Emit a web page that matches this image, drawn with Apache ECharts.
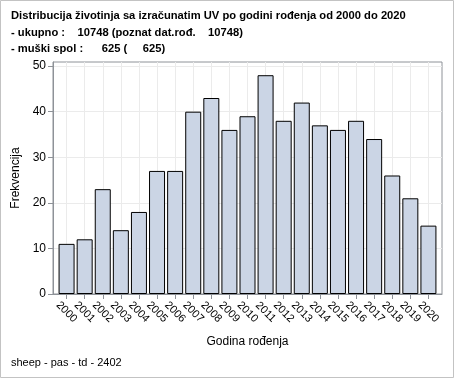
<!DOCTYPE html>
<html>
<head>
<meta charset="utf-8">
<script src="https://cdn.jsdelivr.net/npm/echarts@6/dist/echarts.min.js"></script>
<style>
  html, body { margin: 0; padding: 0; background: #fff; }
  #chart { width: 454px; height: 378px; }
</style>
</head>
<body>
<div id="chart"></div>
<script>
// birth years and counts
const years = [2000, 2001, 2002, 2003, 2004, 2005, 2006, 2007, 2008, 2009, 2010,
               2011, 2012, 2013, 2014, 2015, 2016, 2017, 2018, 2019, 2020];
const counts = [11, 12, 23, 14, 18, 27, 27, 40, 43, 36, 39,
                48, 38, 42, 37, 36, 38, 34, 26, 21, 15];
const yTicks = [0, 10, 20, 30, 40, 50];
const titleLines = [
  'Distribucija životinja sa izračunatim UV po godini rođenja od 2000 do 2020',
  '- ukupno :    10748 (poznat dat.rođ.    10748)',
  '- muški spol :      625 (     625)'
];
const footer = 'sheep - pas - td - 2402';

const font = '"Liberation Sans", Arial, sans-serif';
const chart = echarts.init(document.getElementById('chart'));

const option = {
  animation: false,
  backgroundColor: '#fff',
  title: {
    text: titleLines.join('\n'),
    left: 11,
    top: 8,
    padding: 0,
    textStyle: {
      fontFamily: font,
      fontSize: 11.2,
      fontWeight: 'bold',
      color: '#000',
      lineHeight: 16.5
    }
  },
  graphic: [
    {
      type: 'rect',
      shape: { x: 0.5, y: 0.5, width: 453, height: 377 },
      style: { fill: null, stroke: '#c3c3c3', lineWidth: 1 },
      silent: true
    },
    {
      type: 'text',
      left: 11,
      top: 357,
      style: { text: footer, font: '11px ' + font, fill: '#000' }
    }
  ],
  grid: {
    left: 53,
    right: 12,
    top: 62,
    bottom: 84,
    show: true,
    borderColor: '#8e9298',
    borderWidth: 1
  },
  xAxis: {
    type: 'value',
    min: 1999.25,
    max: 2020.75,
    name: 'Godina rođenja',
    nameLocation: 'middle',
    nameGap: 42,
    nameTextStyle: { fontFamily: font, fontSize: 12, color: '#000' },
    axisLine: { show: true, lineStyle: { color: '#8e9298' } },
    axisTick: { show: true, length: 5, customValues: years, lineStyle: { color: '#8e9298' } },
    axisLabel: {
      customValues: years,
      rotate: -45,
      align: 'center',
      verticalAlign: 'middle',
      margin: 18,
      fontFamily: font,
      fontSize: 11,
      color: '#000',
      formatter: v => String(v)
    },
    splitLine: { show: true, lineStyle: { color: '#ebebeb' } }
  },
  yAxis: {
    type: 'value',
    min: 0,
    max: 50.9,
    name: 'Frekvencija',
    nameLocation: 'middle',
    nameGap: 25,
    nameTextStyle: { fontFamily: font, fontSize: 12, color: '#000' },
    axisLine: { show: true, lineStyle: { color: '#8e9298' } },
    axisTick: { show: true, length: 5, customValues: yTicks, lineStyle: { color: '#8e9298' } },
    axisLabel: {
      customValues: yTicks,
      margin: 7,
      fontFamily: font,
      fontSize: 12,
      color: '#000'
    },
    splitLine: { show: true, lineStyle: { color: '#ebebeb' } }
  },
  series: [{
    type: 'bar',
    data: years.map((y, i) => [y, counts[i]]),
    barWidth: 16,
    itemStyle: {
      color: '#cbd5e5',
      borderColor: '#000',
      borderWidth: 1
    }
  }]
};

chart.setOption(option);
</script>
</body>
</html>
